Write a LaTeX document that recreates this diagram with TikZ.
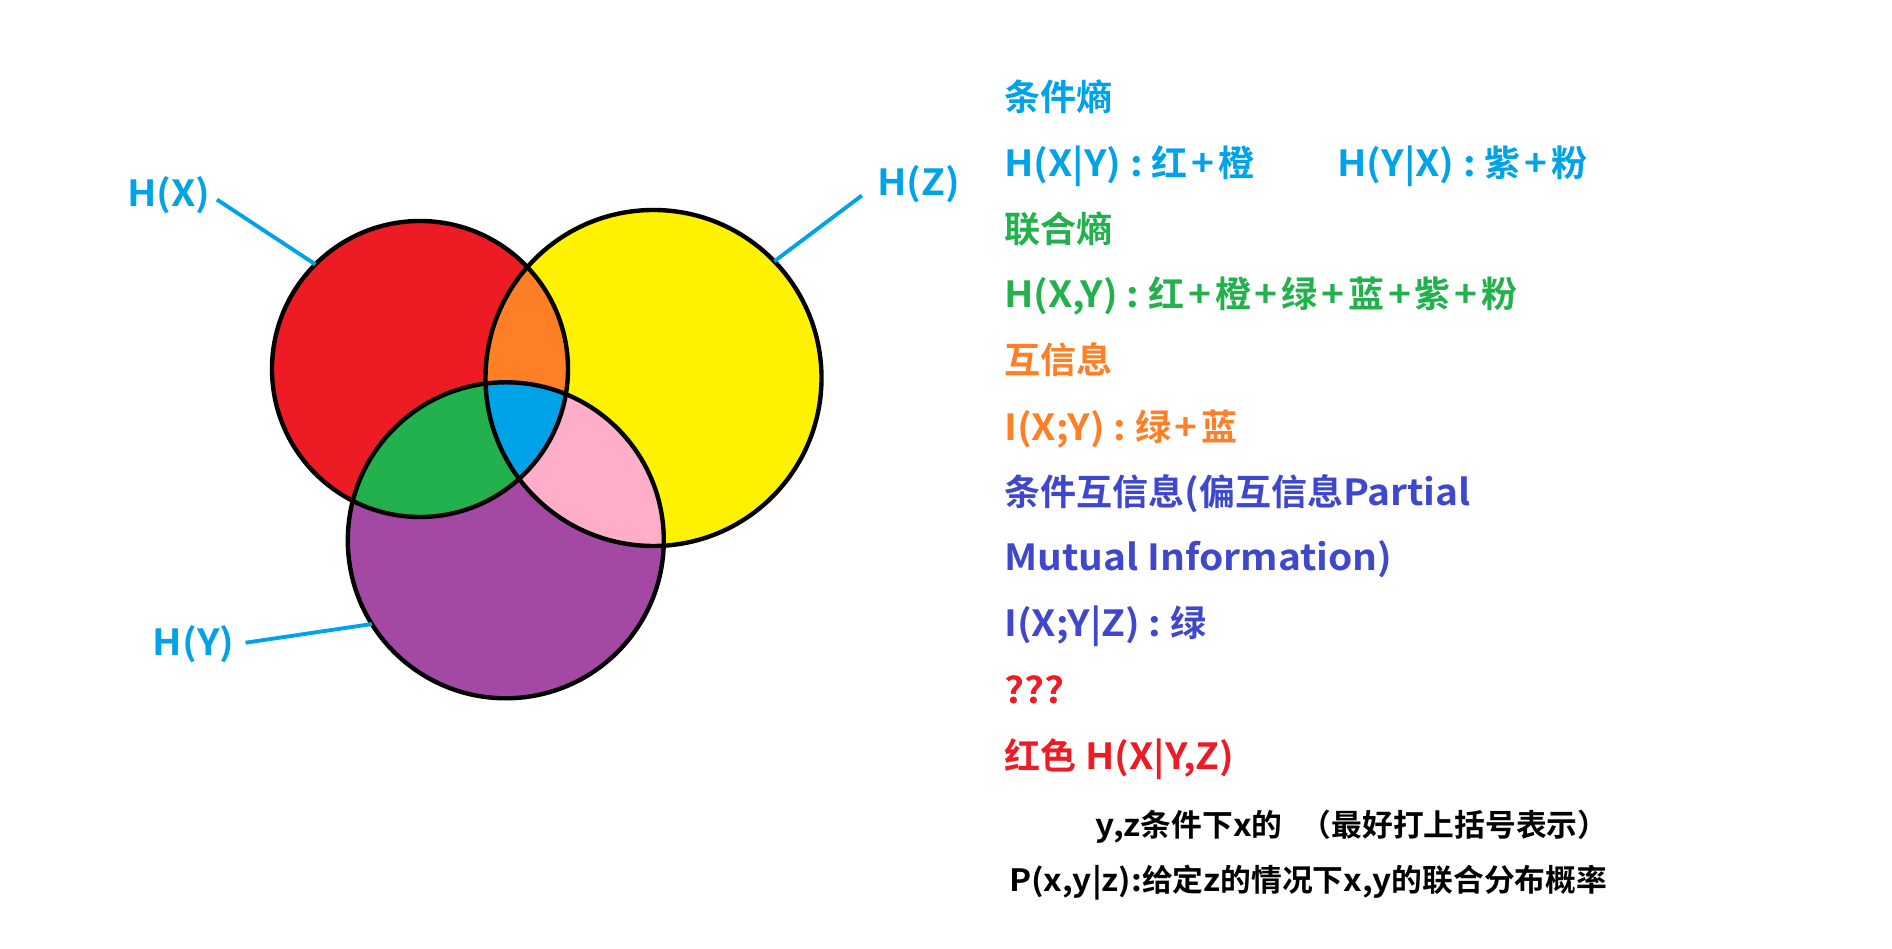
\documentclass[tikz,border=0pt]{standalone}
\usepackage{fontspec}
\usepackage{tikz}
\usetikzlibrary{calc}
\newfontfamily\cjk{Noto Sans CJK SC}[BoldFont={Noto Sans CJK SC Bold}]
\newfontfamily\lat{Noto Sans CJK SC}[BoldFont={Noto Sans CJK SC Bold},FakeStretch=1.08]
\newcommand\la[1]{{\lat#1}}
\newcommand\plus{\makebox[.85em]{\lat+}}
\definecolor{PaintRed}{HTML}{ED1C24}
\definecolor{PaintOrange}{HTML}{FF7F27}
\definecolor{PaintYellow}{HTML}{FFF200}
\definecolor{PaintGreen}{HTML}{22B14C}
\definecolor{PaintBlue}{HTML}{00A2E8}
\definecolor{PaintIndigo}{HTML}{3F48CC}
\definecolor{PaintPurple}{HTML}{A349A4}
\definecolor{PaintPink}{HTML}{FFAEC9}
\begin{document}
\begin{tikzpicture}[x=.02cm,y=.02cm,
 ring/.style={line width=2.5pt,draw=black},
 lead/.style={line width=2.2pt,draw=PaintBlue},
 big/.style={font=\cjk\bfseries\fontsize{20.5}{24}\selectfont},
 small/.style={font=\cjk\bfseries\fontsize{17.5}{21}\selectfont,text=black},
 every node/.style={inner sep=0pt,anchor=base west}]
\useasboundingbox (0,0) rectangle (1892,949);
% three sets
\coordinate (cX) at (420,580);
\coordinate (cZ) at (653.5,571);
\coordinate (cY) at (505.8,408.7);
\def\rX{148}\def\rZ{168}\def\rY{158}
\fill[PaintRed] (cX) circle (\rX);
\fill[PaintYellow] (cZ) circle (\rZ);
\fill[PaintPurple] (cY) circle (\rY);
\begin{scope}
 \clip (cZ) circle (\rZ);
 \fill[PaintPink] (cY) circle (\rY);
\end{scope}
\begin{scope}
 \clip (cX) circle (\rX);
 \fill[PaintOrange] (cZ) circle (\rZ);
 \fill[PaintGreen] (cY) circle (\rY);
 \clip (cZ) circle (\rZ);
 \fill[PaintBlue] (cY) circle (\rY);
\end{scope}
\draw[ring] (cX) circle (\rX);
\draw[ring] (cZ) circle (\rZ);
\draw[ring] (cY) circle (\rY);
% labels of the sets
\node[big,text=PaintBlue] (hX) at (126.7,742.2) {\la{H(X)}};
\node[big,text=PaintBlue] (hY) at (152.5,293.3) {\la{H(Y)}};
\node[big,text=PaintBlue] (hZ) at (877,753.5) {\la{H(Z)}};
\coordinate (rimX) at ($(cX)+(135:\rX)$);
\coordinate (rimY) at ($(cY)+(212:\rY)$);
\coordinate (rimZ) at ($(cZ)+(44:\rZ)$);
\draw[lead,shorten <=.15cm] (hX.east) -- (rimX);
\draw[lead,shorten <=.22cm] (hY.east) -- (rimY);
\draw[lead,shorten >=.38cm] (rimZ) -- (hZ.west);
% notes
\node[big,text=PaintBlue] (condH) at (1004,838) {条件熵};
\node[big,text=PaintBlue] (hXgY) at (1004,772.8) {\la{H(X|Y) : }红\plus 橙};
\node[big,text=PaintBlue] (hYgX) at (1337,772.8) {\la{H(Y|X) : }紫\plus 粉};
\node[big,text=PaintGreen] (jointH) at (1004,706.5) {联合熵};
\node[big,text=PaintGreen] (hXY) at (1004,641.3) {\la{H(X,Y) : }红\plus 橙\plus 绿\plus 蓝\plus 紫\plus 粉};
\node[big,text=PaintOrange] (mutI) at (1004,575) {互信息};
\node[big,text=PaintOrange] (iXY) at (1004,508.6) {\la{I(X;Y) : }绿\plus 蓝};
\node[big,text=PaintIndigo] (condI) at (1004,443.4) {条件互信息\la{(}偏互信息\la{Partial}};
\node[big,text=PaintIndigo] (condIb) at (1004,378.3) {\la{Mutual Information)}};
\node[big,text=PaintIndigo] (iXYgZ) at (1004,312) {\la{I(X;Y|Z) : }绿};
\node[big,text=PaintRed] (qq) at (1004,245.6) {\la{???}};
\node[big,text=PaintRed] (hXgYZ) at (1004,179.2) {红色\la{ H(X|Y,Z)}};
\node[small] (note) at (1095.6,112.8) {\la{y,z}条件下\la{x}的\hspace{.6em}（最好打上括号表示）};
\node[small] (pxy) at (1008.7,57.3) {\la{P(x,y|z):}给定\la{z}的情况下\la{x,y}的联合分布概率};
\end{tikzpicture}
\end{document}
